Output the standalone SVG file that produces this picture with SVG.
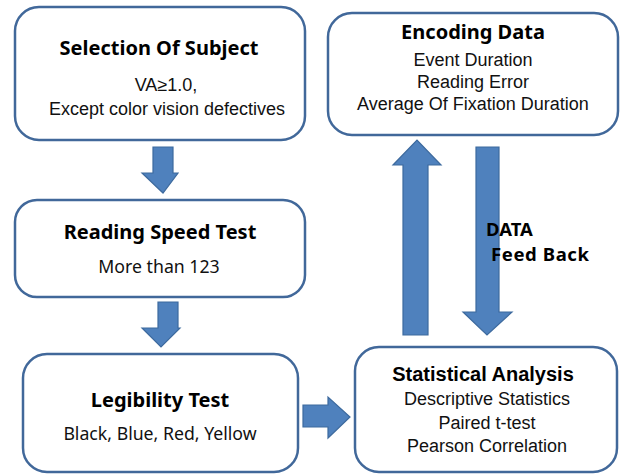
<svg xmlns="http://www.w3.org/2000/svg" width="623" height="475" viewBox="0 0 623 475">
<style>
.box{fill:#fff;stroke:#41689a;stroke-width:2.5}
.arr{fill:#4f81bd;stroke:#3d6a9e;stroke-width:1.2}
.t{font-family:"Noto Sans","Liberation Sans",sans-serif;font-weight:bold;fill:#000;text-anchor:middle;font-size:20px}
.s{font-family:"Noto Sans","Liberation Sans",sans-serif;fill:#111;text-anchor:middle;font-size:17.7px}
.ta{font-family:"Liberation Sans",Arial,sans-serif;font-weight:bold;fill:#000;text-anchor:middle;font-size:20px}
.sa{font-family:"Liberation Sans",Arial,sans-serif;fill:#111;text-anchor:middle;font-size:18px}
.lbl{font-family:"Noto Sans","Liberation Sans",sans-serif;font-weight:bold;fill:#000;font-size:18.5px}
</style>
<rect width="623" height="475" fill="#fff"/>
<g id="connectors">
<polygon class="arr" points="153,147 173,147 173,173 178,173 163,193 142,173 153,173"/>
<polygon class="arr" points="158,302 178,302 178,328 180,328 161,347 142,328 158,328"/>
<polygon class="arr" points="303,405 328,405 328,397 350,417 328,438 328,427 303,427"/>
<polygon class="arr" points="403,335 403,165 393,165 417,140 441,165 428,165 428,335"/>
<polygon class="arr" points="476,147 499,147 499,312 512,312 487,335 463,312 476,312"/>
</g>
<g id="selection">
<rect class="box" x="15" y="7" width="290" height="133" rx="24"/>
<text class="t" x="159" y="55">Selection Of Subject</text>
<text class="sa" x="166" y="91">VA≥1.0,</text>
<text class="sa" x="167" y="115">Except color vision defectives</text>
</g>
<g id="reading">
<rect class="box" x="15" y="200" width="290" height="97" rx="22"/>
<text class="t" x="160" y="239">Reading Speed Test</text>
<text class="s" x="159" y="273">More than 123</text>
</g>
<g id="legibility">
<rect class="box" x="23" y="354" width="275" height="118" rx="24"/>
<text class="t" x="160" y="407">Legibility Test</text>
<text class="s" x="160" y="440">Black, Blue, Red, Yellow</text>
</g>
<g id="statistical">
<rect class="box" x="355" y="347" width="262" height="125" rx="24"/>
<text class="ta" x="483" y="381">Statistical Analysis</text>
<text class="sa" x="487" y="405">Descriptive Statistics</text>
<text class="sa" x="487" y="429">Paired t-test</text>
<text class="sa" x="487" y="452">Pearson Correlation</text>
</g>
<g id="encoding">
<rect class="box" x="328" y="13" width="290" height="122" rx="24"/>
<text class="t" x="473" y="39">Encoding Data</text>
<text class="sa" x="473" y="66">Event Duration</text>
<text class="sa" x="473" y="88">Reading Error</text>
<text class="sa" x="473" y="110">Average Of Fixation Duration</text>
</g>
<g id="feedback-label">
<text class="lbl" x="486" y="236">DATA</text>
<text class="lbl" x="491" y="261" textLength="98" lengthAdjust="spacing">Feed  Back</text>
</g>
</svg>
